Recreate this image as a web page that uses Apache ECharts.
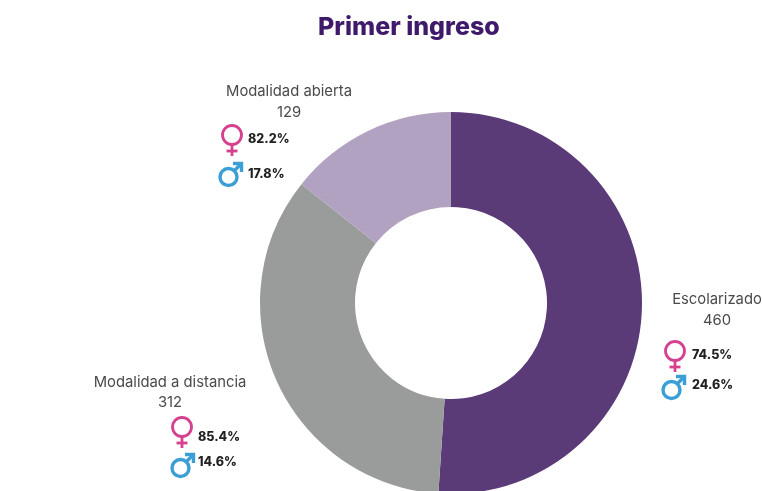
<!DOCTYPE html>
<html><head><meta charset="utf-8">
<style>html,body{margin:0;padding:0;background:#fff}#c{width:762px;height:491px}</style>
<script src="https://cdn.jsdelivr.net/npm/echarts@6/dist/echarts.min.js"></script>
</head><body><div id="c"></div>
<script>
const titleText = 'Primer ingreso';
const categories = ['Escolarizado', 'Modalidad a distancia', 'Modalidad abierta'];
const values = [460, 312, 129];
const femalePct = ['74.5%', '85.4%', '82.2%'];
const malePct = ['24.6%', '14.6%', '17.8%'];
const colors = ['#5b3a78', '#9a9c9b', '#b1a2c1'];
const PINK = '#d6418f', BLUE = '#3b9fd6';
const FONT = 'Inter, "Open Sans", sans-serif';

// annotation layout: name centre x,y ; female symbol x,y ; male symbol x,y ; pct x
const layout = [
  {nx: 717, ny: 300, vy: 321, fx: 675, fy: 351, mx: 674, my: 387, px: 692, fty: 355, mty: 385},
  {nx: 170, ny: 383, vy: 403, fx: 182, fy: 427, mx: 183, my: 465, px: 198, fty: 437, mty: 462},
  {nx: 289, ny: 92, vy: 113, fx: 232, fy: 135, mx: 231, my: 174, px: 248, fty: 139, mty: 174}
];

function femaleSym(x, y) {
  return [
    {type: 'circle', shape: {cx: x, cy: y, r: 9.5}, style: {fill: 'none', stroke: PINK, lineWidth: 2.8}},
    {type: 'line', shape: {x1: x, y1: y + 10, x2: x, y2: y + 21}, style: {stroke: PINK, lineWidth: 2.8}},
    {type: 'line', shape: {x1: x - 5.5, y1: y + 16, x2: x + 5.5, y2: y + 16}, style: {stroke: PINK, lineWidth: 2.8}}
  ];
}
function maleSym(x, y) {
  return [
    {type: 'circle', shape: {cx: x - 2.5, cy: y + 3, r: 8.5}, style: {fill: 'none', stroke: BLUE, lineWidth: 3.4}},
    {type: 'line', shape: {x1: x + 3, y1: y - 3, x2: x + 10.5, y2: y - 10.5}, style: {stroke: BLUE, lineWidth: 3.4}},
    {type: 'polyline', shape: {points: [[x + 2, y - 10.5], [x + 10.5, y - 10.5], [x + 10.5, y - 2]]}, style: {fill: 'none', stroke: BLUE, lineWidth: 3.4}}
  ];
}
function txt(x, y, text, size, weight, color, align) {
  return {type: 'text', x: x, y: y, style: {text: text, fill: color, font: weight + ' ' + size + 'px ' + FONT, textAlign: align, textVerticalAlign: 'middle'}};
}
const graphics = [];
categories.forEach(function (name, i) {
  const p = layout[i];
  graphics.push(txt(p.nx, p.ny, name, 14.8, 400, '#4a4a4a', 'center'));
  graphics.push(txt(p.nx, p.vy, String(values[i]), 14.8, 400, '#4a4a4a', 'center'));
  graphics.push(...femaleSym(p.fx, p.fy), ...maleSym(p.mx, p.my));
  graphics.push(txt(p.px, p.fty, femalePct[i], 12.5, 800, '#222', 'left'));
  graphics.push(txt(p.px, p.mty, malePct[i], 12.5, 800, '#222', 'left'));
});

const chart = echarts.init(document.getElementById('c'), null, {renderer: 'canvas'});
chart.setOption({
  animation: false,
  title: {text: titleText, left: 313, top: 10, textStyle: {color: '#3f1a6b', fontFamily: FONT, fontWeight: 800, fontSize: 25}},
  series: [{
    type: 'pie', center: [451, 303], radius: [96, 191], startAngle: 90, clockwise: true,
    silent: true, label: {show: false}, labelLine: {show: false},
    itemStyle: {borderWidth: 0},
    data: categories.map(function (n, i) { return {name: n, value: values[i], itemStyle: {color: colors[i]}}; })
  }],
  graphic: {elements: graphics}
});
</script></body></html>
